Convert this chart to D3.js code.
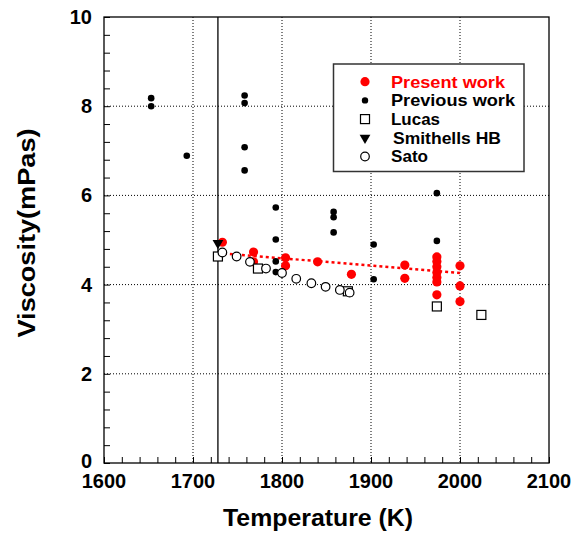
<!DOCTYPE html>
<html>
<head>
<meta charset="utf-8">
<script src="https://cdn.jsdelivr.net/npm/d3@7"></script>
<style>
  html, body { margin: 0; padding: 0; background: #fff; }
  svg { display: block; }
  text { font-family: "Liberation Sans", Arial, sans-serif; font-weight: bold; }
</style>
</head>
<body>
<svg id="chart" width="587" height="535"></svg>
<script>
// ---- data ----
const xTickLabels = [1600, 1700, 1800, 1900, 2000, 2100];
const yTickLabels = [0, 2, 4, 6, 8, 10];

const presentT = [1733, 1768, 1768, 1804, 1804, 1840, 1878, 1938, 1938, 1974, 1974, 1974, 1974, 1974, 1974, 1974, 2000, 2000, 2000];
const presentV = [4.95, 4.73, 4.51, 4.60, 4.42, 4.51, 4.23, 4.44, 4.14, 4.62, 4.52, 4.40, 4.27, 4.16, 4.06, 3.77, 4.42, 3.97, 3.62];

const previousT = [1653, 1653, 1693, 1758, 1758, 1758, 1758, 1793, 1793, 1793, 1793, 1858, 1858, 1858, 1903, 1903, 1974, 1974];
const previousV = [8.18, 8.00, 6.89, 8.24, 8.07, 7.08, 6.56, 5.73, 5.01, 4.52, 4.28, 5.63, 5.51, 5.17, 4.90, 4.12, 6.05, 4.98];

const lucasT = [1728, 1773, 1874, 1974, 2024];
const lucasV = [4.63, 4.36, 3.85, 3.51, 3.32];

const smithellsT = [1728];
const smithellsV = [4.93];

const satoT = [1733, 1749, 1764, 1782, 1800, 1816, 1833, 1849, 1865, 1876];
const satoV = [4.72, 4.63, 4.51, 4.36, 4.26, 4.13, 4.03, 3.95, 3.88, 3.82];

const fitT = [1728, 2000];
const fitV = [4.71, 4.26];

const meltingT = 1728;

const legendLabels = ["Present work", "Previous work", "Lucas", "Smithells HB", "Sato"];

// ---- layout ----
const svg = d3.select("#chart");
const L = 104, R = 549, T = 17, B = 463;
const x = d3.scaleLinear().domain([1600, 2100]).range([L, R]);
const y = d3.scaleLinear().domain([0, 10]).range([B, T]);

// gridlines (dotted)
const grid = svg.append("g");
grid.selectAll("line.gx").data(xTickLabels.slice(1, -1)).join("line")
  .attr("x1", d => x(d)).attr("x2", d => x(d)).attr("y1", T).attr("y2", B)
  .attr("stroke", "#000").attr("stroke-width", 1).attr("stroke-dasharray", "1,2");
grid.selectAll("line.gy").data(yTickLabels.slice(1, -1)).join("line")
  .attr("y1", d => y(d)).attr("y2", d => y(d)).attr("x1", L).attr("x2", R)
  .attr("stroke", "#000").attr("stroke-width", 1).attr("stroke-dasharray", "1,2");

// axes with inward minor ticks
const xAxis = d3.axisBottom(x).tickValues(d3.range(1600, 2101, 20)).tickSize(-6).tickFormat("");
const yAxis = d3.axisLeft(y).tickValues(d3.range(0, 10.01, 0.4)).tickSize(-6).tickFormat("");
const gx = svg.append("g").attr("transform", `translate(0,${B})`).call(xAxis);
const gy = svg.append("g").attr("transform", `translate(${L},0)`).call(yAxis);
[gx, gy].forEach(g => {
  g.select(".domain").remove();
  g.selectAll(".tick line").attr("stroke", "#000").attr("stroke-width", 1);
});

// frame
svg.append("rect").attr("x", L).attr("y", T).attr("width", R - L).attr("height", B - T)
  .attr("fill", "none").attr("stroke", "#000").attr("stroke-width", 1.3);

// tick labels
svg.append("g").selectAll("text").data(xTickLabels).join("text")
  .attr("x", d => x(d)).attr("y", 488).attr("text-anchor", "middle")
  .attr("font-size", 20).attr("fill", "#000").text(d => d);
svg.append("g").selectAll("text").data(yTickLabels).join("text")
  .attr("x", 92).attr("y", d => y(d) + (d === 0 ? 5 : 7)).attr("text-anchor", "end")
  .attr("font-size", 20).attr("fill", "#000").text(d => d);

// axis titles
svg.append("text").attr("x", 318).attr("y", 526).attr("text-anchor", "middle")
  .attr("font-size", 24).attr("fill", "#000")
  .attr("textLength", 190).attr("lengthAdjust", "spacingAndGlyphs")
  .text("Temperature (K)");
svg.append("text").attr("transform", "translate(35,233) rotate(-90)")
  .attr("text-anchor", "middle").attr("font-size", 24).attr("fill", "#000")
  .attr("textLength", 209).attr("lengthAdjust", "spacingAndGlyphs")
  .text("Viscosity(mPas)");

// melting point vertical line
svg.append("line").attr("x1", x(meltingT)).attr("x2", x(meltingT)).attr("y1", T).attr("y2", B)
  .attr("stroke", "#000").attr("stroke-width", 1.3);

// fit line (red dotted)
svg.append("line")
  .attr("x1", x(fitT[0])).attr("y1", y(fitV[0])).attr("x2", x(fitT[1])).attr("y2", y(fitV[1]))
  .attr("stroke", "#f00").attr("stroke-width", 2.5).attr("stroke-dasharray", "3,3");

const zip = (a, b) => a.map((v, i) => [v, b[i]]);

// present work
svg.append("g").selectAll("circle").data(zip(presentT, presentV)).join("circle")
  .attr("cx", d => x(d[0])).attr("cy", d => y(d[1])).attr("r", 4.6).attr("fill", "#f00");
// previous work
svg.append("g").selectAll("circle").data(zip(previousT, previousV)).join("circle")
  .attr("cx", d => x(d[0])).attr("cy", d => y(d[1])).attr("r", 3.3).attr("fill", "#000");
// Lucas squares
svg.append("g").selectAll("rect").data(zip(lucasT, lucasV)).join("rect")
  .attr("x", d => x(d[0]) - 4.5).attr("y", d => y(d[1]) - 4.5).attr("width", 9).attr("height", 9)
  .attr("fill", "#fff").attr("stroke", "#000").attr("stroke-width", 1.2);
// Smithells triangles (down)
const tri = d3.symbol().type(d3.symbolTriangle).size(50);
svg.append("g").selectAll("path").data(zip(smithellsT, smithellsV)).join("path")
  .attr("d", tri).attr("transform", d => `translate(${x(d[0])},${y(d[1])}) rotate(180)`)
  .attr("fill", "#000");
// Sato open circles
svg.append("g").selectAll("circle").data(zip(satoT, satoV)).join("circle")
  .attr("cx", d => x(d[0])).attr("cy", d => y(d[1])).attr("r", 4.3)
  .attr("fill", "#fff").attr("stroke", "#000").attr("stroke-width", 1.2);

// legend
const lg = svg.append("g");
lg.append("rect").attr("x", 333.5).attr("y", 64).attr("width", 190.5).attr("height", 107.5)
  .attr("fill", "#fff").attr("stroke", "#333").attr("stroke-width", 1.5);
const rowY = i => 81.7 + i * 18.7;
const sx = 365, tx = 391;
const labelWidths = [114, 124, 49, 108, 37];
lg.append("circle").attr("cx", sx).attr("cy", rowY(0)).attr("r", 4.6).attr("fill", "#f00");
lg.append("circle").attr("cx", sx).attr("cy", rowY(1)).attr("r", 3.2).attr("fill", "#000");
lg.append("rect").attr("x", sx - 4.5).attr("y", rowY(2) - 4.5).attr("width", 9).attr("height", 9)
  .attr("fill", "#fff").attr("stroke", "#000").attr("stroke-width", 1.2);
lg.append("path").attr("d", tri).attr("transform", `translate(${sx},${rowY(3)}) rotate(180)`).attr("fill", "#000");
lg.append("circle").attr("cx", sx).attr("cy", rowY(4)).attr("r", 4.3)
  .attr("fill", "#fff").attr("stroke", "#000").attr("stroke-width", 1.2);
lg.selectAll("text").data(legendLabels).join("text")
  .attr("x", (d, i) => i === 3 ? tx + 2 : tx).attr("y", (d, i) => rowY(i) + 5.8)
  .attr("font-size", 16.5).attr("fill", (d, i) => i === 0 ? "#f00" : "#000")
  .attr("textLength", (d, i) => labelWidths[i]).attr("lengthAdjust", "spacingAndGlyphs")
  .text(d => d);
</script>
</body>
</html>
